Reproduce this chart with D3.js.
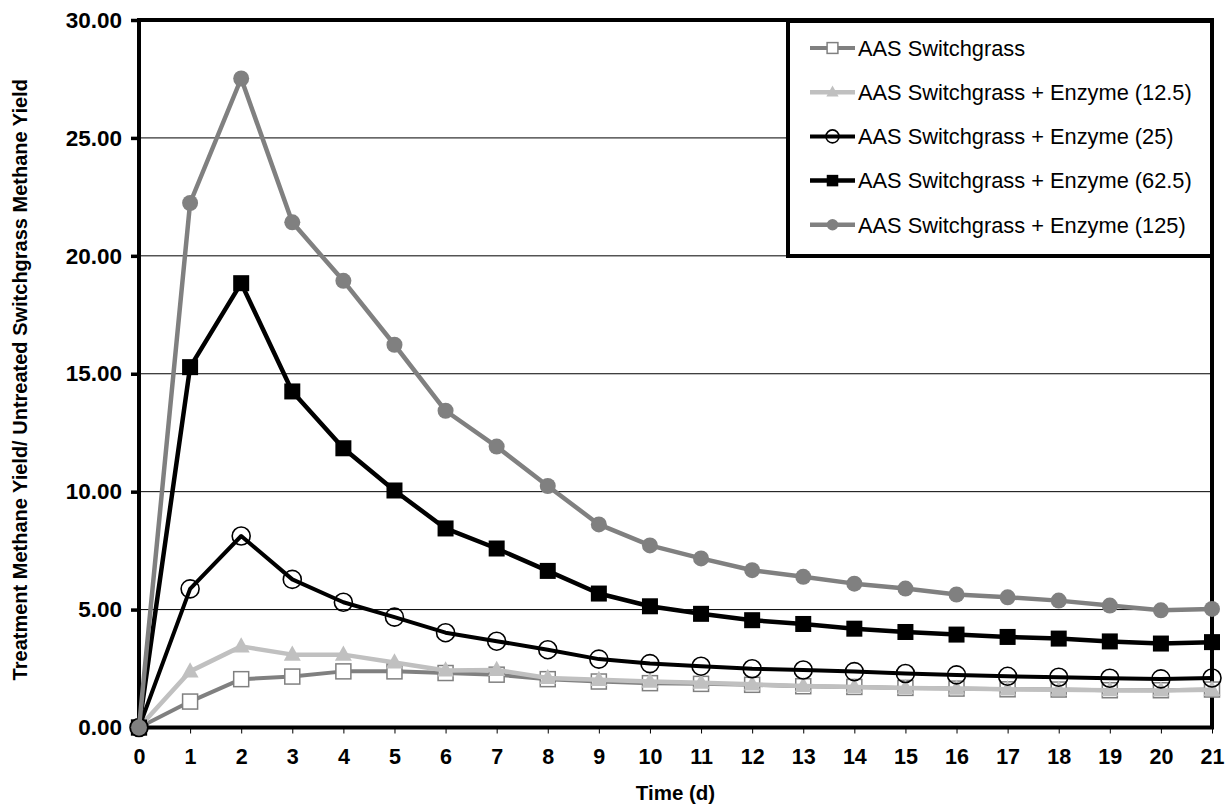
<!DOCTYPE html>
<html>
<head>
<meta charset="utf-8">
<script src="https://cdn.jsdelivr.net/npm/d3@7"></script>
<style>
  body { margin: 0; background: #fff; }
  svg { display: block; font-family: "Liberation Sans", Arial, Helvetica, sans-serif; }
</style>
</head>
<body>
<div id="chart"></div>
<script>
const width = 1225;
const height = 810;

// days on the x axis
const days = d3.range(0, 22);
const yTicks = [0, 5, 10, 15, 20, 25, 30];

// ratio of treatment yield to untreated switchgrass yield
const aasSwitchgrass = [0, 1.10, 2.05, 2.16, 2.38, 2.38, 2.31, 2.24, 2.05, 1.95, 1.88, 1.85, 1.81, 1.75, 1.72, 1.68, 1.65, 1.62, 1.61, 1.58, 1.58, 1.61];
const enzyme12_5 = [0, 2.38, 3.44, 3.09, 3.09, 2.76, 2.42, 2.44, 2.10, 2.02, 1.95, 1.90, 1.83, 1.76, 1.72, 1.68, 1.65, 1.62, 1.60, 1.58, 1.57, 1.60];
const enzyme25 = [0, 5.88, 8.12, 6.28, 5.31, 4.68, 4.02, 3.66, 3.30, 2.90, 2.71, 2.60, 2.49, 2.44, 2.37, 2.29, 2.23, 2.17, 2.13, 2.09, 2.06, 2.10];
const enzyme62_5 = [0, 15.28, 18.84, 14.25, 11.84, 10.05, 8.44, 7.59, 6.64, 5.68, 5.14, 4.82, 4.55, 4.39, 4.19, 4.05, 3.94, 3.84, 3.77, 3.65, 3.56, 3.62];
const enzyme125 = [0, 22.24, 27.52, 21.42, 18.94, 16.23, 13.43, 11.91, 10.24, 8.61, 7.72, 7.17, 6.67, 6.39, 6.10, 5.89, 5.64, 5.52, 5.38, 5.17, 4.97, 5.03];

const seriesNames = [
  "AAS Switchgrass",
  "AAS Switchgrass + Enzyme (12.5)",
  "AAS Switchgrass + Enzyme (25)",
  "AAS Switchgrass + Enzyme (62.5)",
  "AAS Switchgrass + Enzyme (125)"
];
const seriesValues = [aasSwitchgrass, enzyme12_5, enzyme25, enzyme62_5, enzyme125];

// look of each series: line colour, marker shape, marker fill/stroke
const styles = [
  { color: "#808080", lw: 4, shape: "square", fill: "#fff", stroke: "#808080", size: 15, sw: 1.5 },
  { color: "#c0c0c0", lw: 4.5, shape: "triangle", fill: "#c0c0c0", stroke: "#c0c0c0", size: 17, sw: 0 },
  { color: "#000", lw: 4, shape: "circle", fill: "none", stroke: "#000", size: 18, sw: 1.6 },
  { color: "#000", lw: 4.5, shape: "square", fill: "#000", stroke: "#000", size: 16, sw: 0 },
  { color: "#808080", lw: 4.5, shape: "circle", fill: "#808080", stroke: "#808080", size: 16, sw: 0 }
];

const margin = { left: 139, right: 13, top: 20, bottom: 82.5 };

const svg = d3.select("#chart").append("svg")
  .attr("width", width)
  .attr("height", height);

const x = d3.scaleLinear()
  .domain([0, 21])
  .range([margin.left, width - margin.right]);

const y = d3.scaleLinear()
  .domain([0, 30])
  .range([height - margin.bottom, margin.top]);

// horizontal gridlines
svg.append("g")
  .selectAll("line")
  .data(yTicks.filter(d => d > 0 && d < 30))
  .enter().append("line")
  .attr("x1", x(0)).attr("x2", x(21))
  .attr("y1", d => y(d)).attr("y2", d => y(d))
  .attr("stroke", "#000")
  .attr("stroke-width", 1);

// y axis
const yAxis = svg.append("g")
  .attr("transform", `translate(${x(0)},0)`)
  .call(d3.axisLeft(y).tickValues(yTicks).tickFormat(d3.format(".2f")).tickSize(8).tickPadding(9));
yAxis.select(".domain").remove();
yAxis.selectAll(".tick line").attr("stroke", "#000").attr("stroke-width", 3.5);
yAxis.selectAll("text")
  .attr("fill", "#000")
  .style("font-size", "22.5px")
  .style("font-weight", "bold");

// x axis
const xAxis = svg.append("g")
  .attr("transform", `translate(0,${y(0)})`)
  .call(d3.axisBottom(x).tickValues(days).tickFormat(d3.format("d")).tickSize(6).tickPadding(15));
xAxis.select(".domain").remove();
xAxis.selectAll(".tick line").attr("stroke", "#000").attr("stroke-width", 1);
xAxis.selectAll("text")
  .attr("fill", "#000")
  .style("font-size", "21.5px")
  .style("font-weight", "bold");

// plot frame
svg.append("rect")
  .attr("x", x(0)).attr("y", y(30))
  .attr("width", x(21) - x(0))
  .attr("height", y(0) - y(30))
  .attr("fill", "none")
  .attr("stroke", "#000")
  .attr("stroke-width", 4);

function drawMarker(g, st, cx, cy, scale) {
  const s = st.size * scale;
  if (st.shape === "square") {
    g.append("rect")
      .attr("x", cx - s / 2).attr("y", cy - s / 2)
      .attr("width", s).attr("height", s)
      .attr("fill", st.fill).attr("stroke", st.stroke).attr("stroke-width", st.sw);
  } else if (st.shape === "circle") {
    g.append("circle")
      .attr("cx", cx).attr("cy", cy).attr("r", s / 2)
      .attr("fill", st.fill).attr("stroke", st.stroke).attr("stroke-width", st.sw);
  } else {
    const h = s * 0.9;
    g.append("path")
      .attr("d", `M${cx},${cy - h * 0.6}L${cx + s / 2},${cy + h * 0.4}L${cx - s / 2},${cy + h * 0.4}Z`)
      .attr("fill", st.fill);
  }
}

const line = d3.line()
  .x((d, i) => x(days[i]))
  .y(d => y(d));

seriesValues.forEach((vals, k) => {
  const st = styles[k];
  const g = svg.append("g");
  g.append("path")
    .attr("d", line(vals))
    .attr("fill", "none")
    .attr("stroke", st.color)
    .attr("stroke-width", st.lw)
    .attr("stroke-linejoin", "round");
  vals.forEach((v, i) => drawMarker(g, st, x(days[i]), y(v), 1));
});

// legend
const legend = svg.append("g");
legend.append("rect")
  .attr("x", 788).attr("y", 21)
  .attr("width", 1212 - 788).attr("height", 235)
  .attr("fill", "#fff")
  .attr("stroke", "#000")
  .attr("stroke-width", 4);

seriesNames.forEach((name, k) => {
  const st = styles[k];
  const ly = 48 + k * 44.2;
  legend.append("line")
    .attr("x1", 810).attr("x2", 855)
    .attr("y1", ly).attr("y2", ly)
    .attr("stroke", st.color)
    .attr("stroke-width", st.lw);
  drawMarker(legend, st, 832.5, ly, 0.72);
  legend.append("text")
    .attr("x", 858).attr("y", ly)
    .attr("dy", "0.36em")
    .style("font-size", "21.8px")
    .text(name);
});

// axis titles
svg.append("text")
  .attr("x", (x(0) + x(21)) / 2)
  .attr("y", 793)
  .attr("dy", "0.35em")
  .attr("text-anchor", "middle")
  .style("font-size", "20.5px")
  .style("font-weight", "bold")
  .text("Time (d)");

svg.append("text")
  .attr("transform", `translate(20,${(y(0) + y(30)) / 2 + 6}) rotate(-90)`)
  .attr("dy", "0.35em")
  .attr("text-anchor", "middle")
  .style("font-size", "20px")
  .style("font-weight", "bold")
  .text("Treatment Methane Yield/ Untreated Switchgrass Methane Yield");
</script>
</body>
</html>
